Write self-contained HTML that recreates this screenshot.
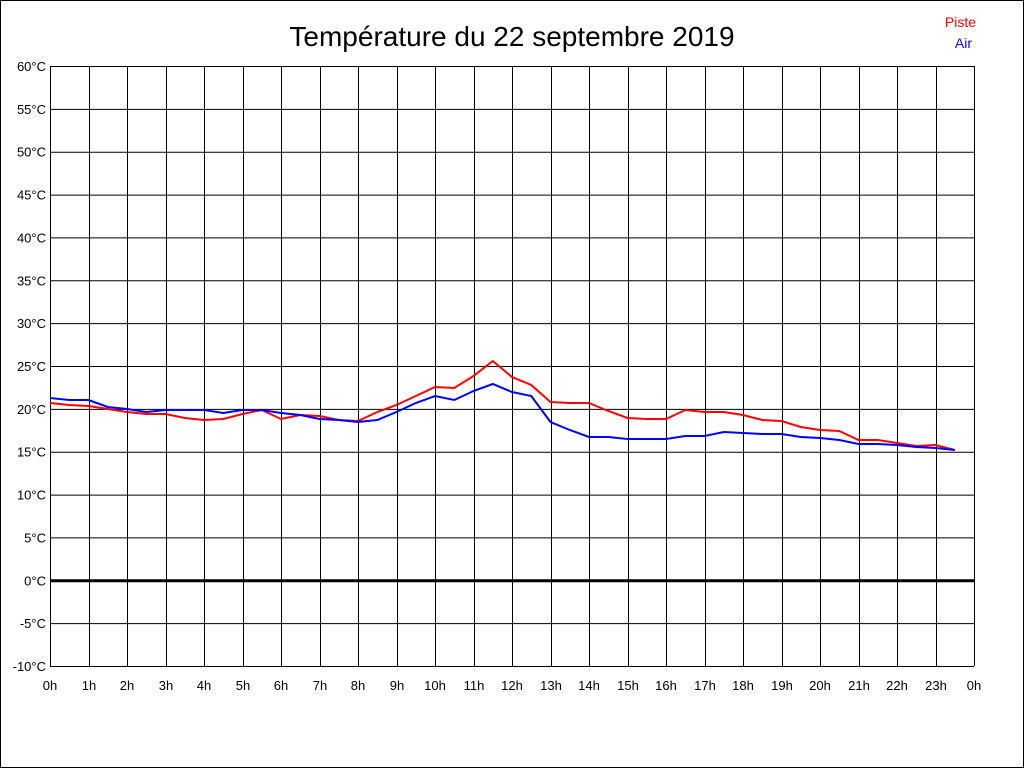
<!DOCTYPE html>
<html><head><meta charset="utf-8"><style>
html,body{margin:0;padding:0;background:#fff}
svg{display:block}
text{font-family:"Liberation Sans",Arial,sans-serif}
</style></head><body>
<svg id="s" width="1024" height="768" xmlns="http://www.w3.org/2000/svg">
<rect x="0.5" y="0.5" width="1023" height="767" fill="#fff" stroke="#000"/>
<text x="512" y="46" font-size="28" text-anchor="middle" fill="#000">Température du 22 septembre 2019</text>
<text x="976" y="27" font-size="14" text-anchor="end" fill="#f00">Piste</text>
<text x="972" y="48" font-size="14" text-anchor="end" fill="#00f">Air</text>
<g id="g"></g>
</svg>
<script>
var g=document.getElementById('g'),h='';
var X0=50,X1=974,Y0=66,Y1=666;
for(var i=0;i<=14;i++){var y=Y0+i*600/14;var v=60-5*i;
 h+='<line x1="'+X0+'" x2="'+X1+'" y1="'+(y+0.5)+'" y2="'+(y+0.5)+'" stroke="#000" stroke-width="'+(v==0?3:1)+'"/>';
 h+='<text x="46" y="'+(y+5)+'" font-size="13" text-anchor="end">'+v+'°C</text>';}
for(var k=0;k<=24;k++){var x=X0+k*38.5;x=Math.round(x);
 h+='<line x1="'+(x+0.5)+'" x2="'+(x+0.5)+'" y1="'+Y0+'" y2="'+Y1+'" stroke="#000"/>';
 h+='<text x="'+(x)+'" y="690" font-size="13" text-anchor="middle">'+(k%24)+'h</text>';}
var r=[403,405,406,409,412,414,414,418,420,419,414,410,419,415,416,420,421,412,405,396,387,388,376,361,377,385,402,403,403,411,418,419,419,410,412,412,415,420,421,427,430,431,440,440,443,446,445,450];
var b=[398,400,400,407,409,412,410,410,410,413,410,410,413,415,419,420,422,420,412,403,396,400,391,384,392,396,422,430,437,437,439,439,439,436,436,432,433,434,434,437,438,440,444,444,445,447,448,450];
function pl(a,c){var p=a.map(function(y,i){return (X0+i*19.25).toFixed(1)+','+y}).join(' ');
 return '<polyline points="'+p+'" fill="none" stroke="'+c+'" stroke-width="2"/>';}
h+=pl(r,'#f00')+pl(b,'#00f');
g.innerHTML=h;
</script>
</body></html>
